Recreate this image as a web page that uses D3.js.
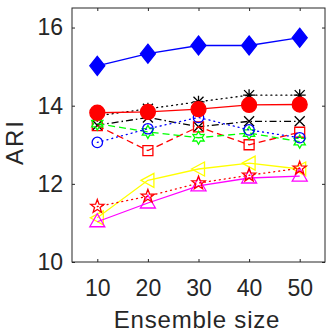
<!DOCTYPE html>
<html>
<head>
<meta charset="utf-8">
<script src="https://cdn.jsdelivr.net/npm/d3@7"></script>
<style>
  body { margin: 0; background: #fff; }
  text { font-family: "Liberation Sans", Arial, sans-serif; fill: #262626; }
</style>
</head>
<body>
<div id="chart"></div>
<script>
var sizes = [10, 20, 30, 40, 50];
var yTicks = [10, 12, 14, 16];

var diamondBlue = [15.02, 15.33, 15.54, 15.54, 15.74];
var circleRed = [13.82, 13.84, 13.91, 14.02, 14.03];
var asteriskBlack = [13.74, 13.92, 14.1, 14.27, 14.27];
var crossBlack = [13.5, 13.7, 13.46, 13.6, 13.6];
var squareRed = [13.49, 12.85, 13.46, 13.0, 13.32];
var circleBlue = [13.06, 13.41, 13.7, 13.38, 13.18];
var hexGreen = [13.54, 13.33, 13.18, 13.3, 13.08];
var triLeftYellow = [11.13, 12.09, 12.38, 12.53, 12.38];
var triUpMagenta = [11.03, 11.51, 11.95, 12.15, 12.2];
var starRed = [11.42, 11.68, 12.02, 12.22, 12.4];

var margin = { top: 8, right: 2, bottom: 72, left: 72 },
    width = 327 - margin.left - margin.right,
    height = 334 - margin.top - margin.bottom;

var svg = d3.select("#chart")
    .append("svg")
    .attr("width", 327)
    .attr("height", 334)
    .append("g")
    .attr("transform", "translate(" + margin.left + "," + margin.top + ")");

var x = d3.scaleLinear().domain([5, 55]).range([0, width]);
var y = d3.scaleLinear().domain([10, 16.5]).range([height, 0]);

// axes, MATLAB-like box with inward ticks
svg.append("g")
    .attr("transform", "translate(0," + height + ")")
    .call(d3.axisBottom(x).tickValues(sizes).tickSizeInner(-3).tickSizeOuter(0).tickPadding(18))
    .call(function (g) { g.select(".domain").remove(); });
svg.append("g")
    .call(d3.axisTop(x).tickValues(sizes).tickSizeInner(-3).tickSizeOuter(0).tickFormat(""))
    .call(function (g) { g.select(".domain").remove(); });
svg.append("g")
    .call(d3.axisLeft(y).tickValues(yTicks).tickFormat(d3.format("d")).tickSizeInner(-3).tickSizeOuter(0).tickPadding(9))
    .call(function (g) { g.select(".domain").remove(); });
svg.append("g")
    .attr("transform", "translate(" + width + ",0)")
    .call(d3.axisRight(y).tickValues(yTicks).tickSizeInner(-3).tickSizeOuter(0).tickFormat(""))
    .call(function (g) { g.select(".domain").remove(); });

svg.selectAll(".tick line").attr("stroke", "#262626");
svg.selectAll(".tick text")
    .style("font-size", "23px")
    .style("font-family", "'Liberation Sans', Arial, sans-serif")
    .attr("fill", "#262626");

svg.append("rect")
    .attr("width", width).attr("height", height)
    .attr("fill", "none").attr("stroke", "#262626").attr("stroke-width", 1);

function star(n, R, r) {
    var pts = [];
    for (var i = 0; i < 2 * n; i++) {
        var a = Math.PI * i / n - Math.PI / 2;
        var rr = i % 2 ? r : R;
        pts.push([rr * Math.cos(a), rr * Math.sin(a)]);
    }
    return "M" + pts.join("L") + "Z";
}

var shapes = {
    diamond: "M0,-9.5L7.5,0L0,9.5L-7.5,0Z",
    circleBig: d3.symbol(d3.symbolCircle, 175)(),
    circle: d3.symbol(d3.symbolCircle, 85)(),
    square: "M-5,-5L5,-5L5,5L-5,5Z",
    cross: "M-5,-5L5,5M-5,5L5,-5",
    asterisk: "M-5,-5L5,5M-5,5L5,-5M0,-6L0,6M-6,0L6,0",
    hex: star(6, 6.5, 3.7),
    pent: star(5, 7, 2.9),
    triLeft: "M-7,0L6,-7L6,7Z",
    triUp: "M0,-8L7.5,5L-7.5,5Z"
};

var series = [
    { v: asteriskBlack, color: "#000", dash: "1,4", marker: "asterisk", fill: "none" },
    { v: crossBlack, color: "#000", dash: "7,3,1.5,3", marker: "cross", fill: "none" },
    { v: squareRed, color: "#f00", dash: "7,4", marker: "square", fill: "none" },
    { v: hexGreen, color: "#0f0", dash: "7,4", marker: "hex", fill: "none" },
    { v: circleBlue, color: "#00f", dash: "1,4", marker: "circle", fill: "none" },
    { v: circleRed, color: "#f00", dash: null, marker: "circleBig", fill: "#f00" },
    { v: diamondBlue, color: "#00f", dash: null, marker: "diamond", fill: "#00f" },
    { v: triLeftYellow, color: "#ff0", dash: null, marker: "triLeft", fill: "none" },
    { v: triUpMagenta, color: "#f0f", dash: null, marker: "triUp", fill: "none" },
    { v: starRed, color: "#f00", dash: "1,4", marker: "pent", fill: "none" }
];

var line = d3.line()
    .x(function (d, i) { return x(sizes[i]); })
    .y(function (d) { return y(d); });

series.forEach(function (s) {
    svg.append("path")
        .datum(s.v)
        .attr("fill", "none")
        .attr("stroke", s.color)
        .attr("stroke-width", 1.3)
        .attr("stroke-dasharray", s.dash)
        .attr("stroke-linecap", s.dash === "1,4" ? "round" : "butt")
        .attr("d", line);

    svg.append("g")
        .selectAll("path")
        .data(s.v)
        .enter()
        .append("path")
        .attr("transform", function (d, i) { return "translate(" + x(sizes[i]) + "," + y(d) + ")"; })
        .attr("d", shapes[s.marker])
        .attr("fill", s.fill)
        .attr("stroke", s.color)
        .attr("stroke-width", 1.3);
});

svg.append("text")
    .attr("text-anchor", "middle")
    .style("font-size", "24px")
    .style("letter-spacing", "0.8px")
    .attr("x", 197 - margin.left)
    .attr("y", height + 66)
    .text("Ensemble size");

svg.append("text")
    .attr("text-anchor", "middle")
    .style("font-size", "24px")
    .style("letter-spacing", "2px")
    .attr("transform", "translate(" + (23 - margin.left) + "," + (142 - margin.top) + ") rotate(-90)")
    .text("ARI");
</script>
</body>
</html>
